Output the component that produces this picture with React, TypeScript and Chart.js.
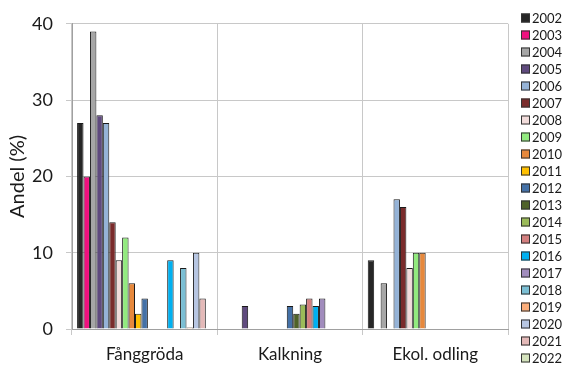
import React, { useEffect, useRef } from "react";
import { Chart, registerables } from "chart.js";

Chart.register(...registerables);

const categories = ["Fånggröda", "Kalkning", "Ekol. odling"];
const years = ["2002","2003","2004","2005","2006","2007","2008","2009","2010","2011","2012","2013","2014","2015","2016","2017","2018","2019","2020","2021","2022"];
const colors = ["#262626","#f0107f","#a6a6a6","#5f4a7e","#95b3d7","#7a2b2b","#f2dcdb","#92ea7f","#e6883c","#ffc000","#4471a7","#4f6228","#9bbb59","#d47f7f","#00b0f0","#a18cbd","#7bbfd4","#fbad7a","#b7c6e2","#e4b9b8","#d4e3bc"];

const v2002 = [27, null, 9];
const v2003 = [20, null, null];
const v2004 = [39, null, 6];
const v2005 = [28, 3, null];
const v2006 = [27, null, 17];
const v2007 = [14, null, 16];
const v2008 = [9, null, 8];
const v2009 = [12, null, 10];
const v2010 = [6, null, 10];
const v2011 = [2, null, null];
const v2012 = [4, 3, null];
const v2013 = [null, 2, null];
const v2014 = [null, 3.2, null];
const v2015 = [null, 4, null];
const v2016 = [9, 3, null];
const v2017 = [null, 4, null];
const v2018 = [8, null, null];
const v2019 = [0.2, null, null];
const v2020 = [10, null, null];
const v2021 = [4, null, null];
const v2022 = [null, null, null];

const seriesValues = [v2002,v2003,v2004,v2005,v2006,v2007,v2008,v2009,v2010,v2011,v2012,v2013,v2014,v2015,v2016,v2017,v2018,v2019,v2020,v2021,v2022];

const yTicks = [0, 10, 20, 30, 40];

const FONT = "Lato";
const TEXT = "#1a1a1a";

const sideLegend = {
  id: "sideLegend",
  afterDraw(chart: any) {
    const ctx = chart.ctx;
    const boxX = chart.chartArea.right + 13;
    const top = 18;
    const step = 17;
    ctx.save();
    ctx.font = `13px ${FONT}`;
    ctx.textBaseline = "middle";
    ctx.textAlign = "left";
    chart.data.datasets.forEach((ds: any, i: number) => {
      const cy = top + i * step;
      ctx.fillStyle = ds.backgroundColor;
      ctx.fillRect(boxX, cy - 4.5, 9, 9);
      ctx.strokeStyle = "#333";
      ctx.lineWidth = 1;
      ctx.strokeRect(boxX + 0.5, cy - 4, 8, 8);
      ctx.fillStyle = TEXT;
      ctx.fillText(ds.label, boxX + 11, cy + 0.5);
    });
    ctx.restore();
  },
};

export default function App() {
  const ref = useRef<HTMLCanvasElement>(null);
  useEffect(() => {
    if (!ref.current) return;
    const chart = new Chart(ref.current, {
      type: "bar",
      data: {
        labels: categories,
        datasets: years.map((y, i) => ({
          label: y,
          data: seriesValues[i],
          backgroundColor: colors[i],
          borderColor: "#1a1a1a",
          borderWidth: 1,
          categoryPercentage: 0.93,
          barPercentage: 1,
        })),
      },
      plugins: [sideLegend],
      options: {
        animation: false,
        responsive: true,
        maintainAspectRatio: false,
        layout: { padding: { top: 10, left: 6, right: 58, bottom: 3 } },
        plugins: {
          tooltip: { enabled: false },
          legend: { display: false },
        },
        scales: {
          x: {
            offset: true,
            grid: { offset: true, color: "#c8c8c8", tickLength: 6 },
            border: { color: "#a0a0a0" },
            ticks: { color: TEXT, font: { family: FONT, size: 17 }, padding: 9 },
            afterFit: (axis: any) => {
              axis.height = 35;
            },
          },
          y: {
            min: 0,
            max: 40,
            afterBuildTicks: (axis: any) => {
              axis.ticks = yTicks.map((v) => ({ value: v }));
            },
            afterFit: (axis: any) => {
              axis.width = 66;
            },
            grid: { color: "#c8c8c8", tickLength: 6 },
            border: { color: "#a0a0a0" },
            ticks: { color: TEXT, font: { family: FONT, size: 18 }, padding: 13 },
            title: {
              display: true,
              text: "Andel (%)",
              color: TEXT,
              font: { family: FONT, size: 20 },
              padding: { top: 0, bottom: 0 },
            },
          },
        },
      },
    });
    return () => chart.destroy();
  }, []);
  return (
    <div style={{ position: "absolute", left: 0, top: 0, width: 566, height: 367 }}>
      <canvas ref={ref} />
    </div>
  );
}
